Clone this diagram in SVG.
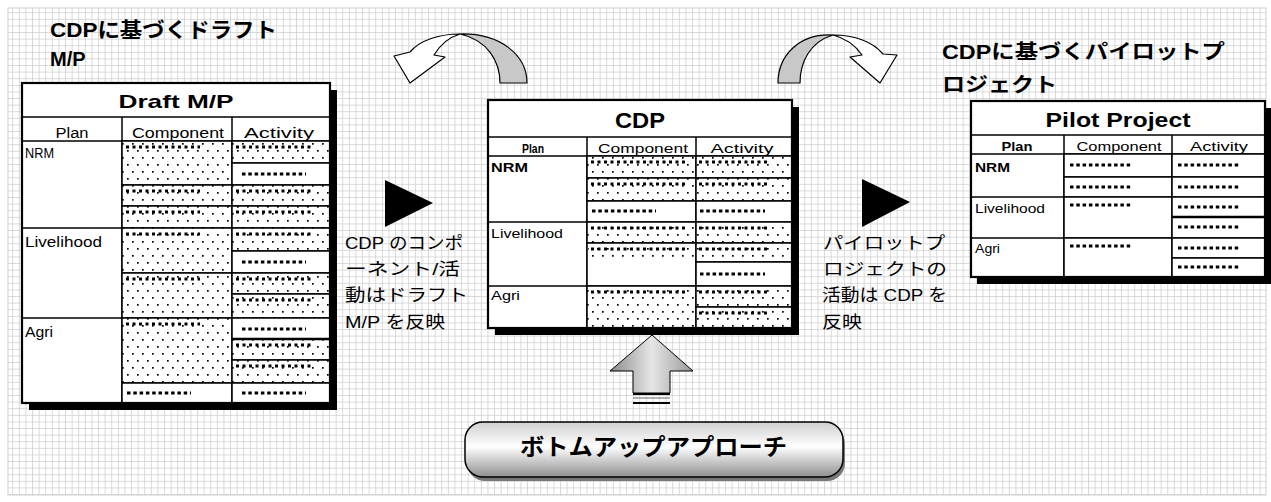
<svg xmlns="http://www.w3.org/2000/svg" width="1271" height="502" viewBox="0 0 1271 502">
<defs>
<pattern id="grid" width="6.6" height="6.6" patternUnits="userSpaceOnUse"><rect width="6.6" height="6.6" fill="#fff"/><path d="M6.6 0V6.6H0" fill="none" stroke="#cdcdcd" stroke-width="1.5"/></pattern>
<pattern id="dots" width="10" height="14" patternUnits="userSpaceOnUse"><rect width="10" height="14" fill="#fff"/><rect x="2" y="3" width="1.7" height="1.7" fill="#000"/><rect x="7" y="10" width="1.7" height="1.7" fill="#000"/></pattern>
<linearGradient id="upg" x1="0" y1="0" x2="1" y2="0"><stop offset="0" stop-color="#8a8a8a"/><stop offset="0.5" stop-color="#e6e6e6"/><stop offset="1" stop-color="#9a9a9a"/></linearGradient>
<linearGradient id="btn" x1="0" y1="0" x2="0" y2="1"><stop offset="0" stop-color="#cfcfcf"/><stop offset="0.45" stop-color="#ffffff"/><stop offset="1" stop-color="#8f8f8f"/></linearGradient>
<style>
.cell{fill:#fff;stroke:#000;stroke-width:1.5}
.dot{fill:url(#dots);stroke:#000;stroke-width:1.5}
.frame{fill:none;stroke:#000;stroke-width:2.2}
.shadow{fill:#000}
.ln{stroke:#000;stroke-width:1.5}
.mk{stroke:#000;stroke-width:3;stroke-dasharray:3 3.5;fill:none}
.dl{stroke:#000;stroke-width:3;stroke-dasharray:3.5 2.8;fill:none}
.ttl{font-family:"Liberation Sans",Arial,sans-serif;font-weight:bold;text-anchor:middle;fill:#000}
.hd{font-family:"Liberation Sans",Arial,sans-serif;text-anchor:middle;fill:#000}
.lb{font-family:"Liberation Sans",Arial,sans-serif;fill:#000}
.jp{font-family:"Liberation Sans","Noto Sans CJK JP",sans-serif;fill:#000}
.jpb{font-family:"Liberation Sans","Noto Sans CJK JP",sans-serif;font-weight:bold;fill:#000}
.band{stroke:#000;stroke-width:1.2;stroke-linejoin:round}
</style>
</defs>
<rect width="1271" height="502" fill="#fff"/>
<rect x="8" y="8" width="1258" height="487" fill="url(#grid)" stroke="#cfcfcf" stroke-width="1"/>

<g id="label-draft-title">
<text class="jpb" x="50" y="37" font-size="21" textLength="227" lengthAdjust="spacingAndGlyphs">CDPに基づくドラフト</text>
<text class="jpb" x="50" y="66" font-size="20">M/P</text>
</g>

<g id="label-pilot-title">
<text class="jpb" x="942" y="59" font-size="20" textLength="283" lengthAdjust="spacingAndGlyphs">CDPに基づくパイロットプ</text>
<text class="jpb" x="942" y="92" font-size="20" textLength="115" lengthAdjust="spacingAndGlyphs">ロジェクト</text>
</g>

<g id="table-draft">
<rect class="shadow" x="29" y="90" width="308" height="320"/>
<rect class="cell" x="22" y="83" width="308" height="320"/>
<line class="ln" x1="22" y1="117" x2="330" y2="117"/>
<line class="ln" x1="22" y1="141" x2="330" y2="141"/>
<line class="ln" x1="122" y1="117" x2="122" y2="403"/>
<line class="ln" x1="232" y1="117" x2="232" y2="403"/>
<line class="ln" x1="22" y1="228" x2="122" y2="228"/>
<line class="ln" x1="22" y1="318" x2="122" y2="318"/>
<rect class="dot" x="122" y="141" width="110" height="44"/>
<rect class="dot" x="122" y="185" width="110" height="21"/>
<rect class="dot" x="122" y="206" width="110" height="22"/>
<rect class="dot" x="122" y="228" width="110" height="45"/>
<rect class="dot" x="122" y="273" width="110" height="45"/>
<rect class="dot" x="122" y="318" width="110" height="65"/>
<rect class="cell" x="122" y="383" width="110" height="20"/>
<rect class="dot" x="232" y="141" width="98" height="22"/>
<rect class="cell" x="232" y="163" width="98" height="22"/>
<rect class="dot" x="232" y="185" width="98" height="21"/>
<rect class="dot" x="232" y="206" width="98" height="22"/>
<rect class="dot" x="232" y="228" width="98" height="23"/>
<rect class="cell" x="232" y="251" width="98" height="22"/>
<rect class="dot" x="232" y="273" width="98" height="21"/>
<rect class="dot" x="232" y="294" width="98" height="24"/>
<rect class="cell" x="232" y="318" width="98" height="21"/>
<rect class="dot" x="232" y="339" width="98" height="21"/>
<rect class="dot" x="232" y="360" width="98" height="23"/>
<rect class="cell" x="232" y="383" width="98" height="20"/>
<path class="mk" d="M126 147H200M126 191H200M126 212H200M126 234H200M126 279H200M126 324H200M236 147H312M236 191H312M236 212H312M236 234H312M236 279H312M236 300H312M236 345H312M236 366H312"/>
<path class="dl" d="M127 393H191M242 174H306M242 262H306M242 329H306M242 393H306"/>
<line x1="232" y1="339" x2="330" y2="339" stroke="#000" stroke-width="2.5"/>
<rect class="frame" x="22" y="83" width="308" height="320"/>
<text class="ttl" x="176" y="108" font-size="19" textLength="115" lengthAdjust="spacingAndGlyphs">Draft M/P</text>
<text class="hd" x="72" y="138" font-size="14" textLength="33" lengthAdjust="spacingAndGlyphs">Plan</text>
<text class="hd" x="178" y="138" font-size="14" textLength="92" lengthAdjust="spacingAndGlyphs">Component</text>
<text class="hd" x="279" y="138" font-size="14" textLength="70" lengthAdjust="spacingAndGlyphs">Activity</text>
<text class="lb" x="25" y="158" font-size="14" textLength="29" lengthAdjust="spacingAndGlyphs">NRM</text>
<text class="lb" x="25" y="247" font-size="14" textLength="77" lengthAdjust="spacingAndGlyphs">Livelihood</text>
<text class="lb" x="25" y="337" font-size="14" textLength="28" lengthAdjust="spacingAndGlyphs">Agri</text>
</g>

<g id="table-cdp">
<rect class="shadow" x="495" y="107" width="304" height="228"/>
<rect class="cell" x="488" y="100" width="304" height="228"/>
<line class="ln" x1="488" y1="137" x2="792" y2="137"/>
<line class="ln" x1="488" y1="156" x2="792" y2="156"/>
<line class="ln" x1="587" y1="137" x2="587" y2="328"/>
<line class="ln" x1="696" y1="137" x2="696" y2="328"/>
<line class="ln" x1="488" y1="222" x2="587" y2="222"/>
<line class="ln" x1="488" y1="286" x2="587" y2="286"/>
<rect class="dot" x="587" y="156" width="109" height="22"/>
<rect class="dot" x="587" y="178" width="109" height="23"/>
<rect class="cell" x="587" y="201" width="109" height="21"/>
<rect class="dot" x="587" y="222" width="109" height="21"/>
<rect class="cell" x="587" y="243" width="109" height="43"/>
<rect x="588" y="244" width="107" height="18" fill="url(#dots)"/>
<rect class="dot" x="587" y="286" width="109" height="42"/>
<rect class="dot" x="696" y="156" width="96" height="22"/>
<rect class="dot" x="696" y="178" width="96" height="23"/>
<rect class="cell" x="696" y="201" width="96" height="21"/>
<rect class="dot" x="696" y="222" width="96" height="21"/>
<rect class="dot" x="696" y="243" width="96" height="19"/>
<rect class="cell" x="696" y="262" width="96" height="24"/>
<rect class="dot" x="696" y="286" width="96" height="21"/>
<rect class="dot" x="696" y="307" width="96" height="21"/>
<path class="mk" d="M591 162H685M591 184H685M591 228H685M591 249H685M591 292H685M699 162H768M699 184H768M699 228H768M699 249H768M699 292H768M699 313H768"/>
<path class="dl" d="M592 211H656M700 211H765M700 274H765"/>
<rect class="frame" x="488" y="100" width="304" height="228"/>
<text class="ttl" x="640" y="128" font-size="22" textLength="50" lengthAdjust="spacingAndGlyphs">CDP</text>
<text class="hd" x="533" y="153" font-size="12" font-weight="bold" textLength="22" lengthAdjust="spacingAndGlyphs">Plan</text>
<text class="hd" x="643" y="153" font-size="12" textLength="90" lengthAdjust="spacingAndGlyphs">Component</text>
<text class="hd" x="742" y="153" font-size="12" textLength="63" lengthAdjust="spacingAndGlyphs">Activity</text>
<text class="lb" x="491" y="172" font-size="12" font-weight="bold" textLength="37" lengthAdjust="spacingAndGlyphs">NRM</text>
<text class="lb" x="491" y="238" font-size="12" textLength="72" lengthAdjust="spacingAndGlyphs">Livelihood</text>
<text class="lb" x="491" y="300" font-size="12" textLength="29" lengthAdjust="spacingAndGlyphs">Agri</text>
</g>

<g id="table-pilot">
<rect class="shadow" x="977" y="108" width="294" height="176"/>
<rect class="cell" x="971" y="101" width="294" height="176"/>
<line class="ln" x1="971" y1="135" x2="1265" y2="135"/>
<line class="ln" x1="971" y1="154" x2="1265" y2="154"/>
<line class="ln" x1="1064" y1="135" x2="1064" y2="277"/>
<line class="ln" x1="1172" y1="135" x2="1172" y2="277"/>
<line class="ln" x1="971" y1="197" x2="1064" y2="197"/>
<line class="ln" x1="971" y1="238" x2="1064" y2="238"/>
<rect class="cell" x="1064" y="154" width="108" height="23"/>
<rect class="cell" x="1064" y="177" width="108" height="20"/>
<rect class="cell" x="1064" y="197" width="108" height="41"/>
<rect class="cell" x="1064" y="238" width="108" height="39"/>
<rect class="cell" x="1172" y="154" width="93" height="23"/>
<rect class="cell" x="1172" y="177" width="93" height="20"/>
<rect class="cell" x="1172" y="197" width="93" height="20"/>
<rect class="cell" x="1172" y="217" width="93" height="21"/>
<rect class="cell" x="1172" y="238" width="93" height="20"/>
<rect class="cell" x="1172" y="258" width="93" height="19"/>
<line x1="1172" y1="217" x2="1265" y2="217" stroke="#000" stroke-width="2.5"/>
<path class="dl" d="M1070 165H1133M1070 187H1133M1070 205H1133M1070 246H1133M1178 165H1241M1178 187H1241M1178 207H1241M1178 227H1241M1178 248H1241M1178 267H1241"/>
<rect class="frame" x="971" y="101" width="294" height="176"/>
<text class="ttl" x="1118" y="127" font-size="20" textLength="145" lengthAdjust="spacingAndGlyphs">Pilot Project</text>
<text class="hd" x="1017" y="151" font-size="12" font-weight="bold" textLength="31" lengthAdjust="spacingAndGlyphs">Plan</text>
<text class="hd" x="1119" y="151" font-size="12" textLength="85" lengthAdjust="spacingAndGlyphs">Component</text>
<text class="hd" x="1219" y="151" font-size="12" textLength="58" lengthAdjust="spacingAndGlyphs">Activity</text>
<text class="lb" x="975" y="172" font-size="12" font-weight="bold" textLength="35" lengthAdjust="spacingAndGlyphs">NRM</text>
<text class="lb" x="975" y="213" font-size="12" textLength="70" lengthAdjust="spacingAndGlyphs">Livelihood</text>
<text class="lb" x="975" y="253" font-size="12" textLength="25" lengthAdjust="spacingAndGlyphs">Agri</text>
</g>

<g id="note-left">
<text class="jp" x="345" y="249" font-size="17" textLength="118" lengthAdjust="spacingAndGlyphs">CDP のコンポ</text>
<text class="jp" x="345" y="275" font-size="17" textLength="115" lengthAdjust="spacingAndGlyphs">ーネント/活</text>
<text class="jp" x="345" y="301" font-size="17" textLength="123" lengthAdjust="spacingAndGlyphs">動はドラフト</text>
<text class="jp" x="345" y="328" font-size="17" textLength="100" lengthAdjust="spacingAndGlyphs">M/P を反映</text>
</g>

<g id="note-right">
<text class="jp" x="823" y="249" font-size="17" textLength="122" lengthAdjust="spacingAndGlyphs">パイロットプ</text>
<text class="jp" x="823" y="275" font-size="17" textLength="124" lengthAdjust="spacingAndGlyphs">ロジェクトの</text>
<text class="jp" x="822" y="301" font-size="17" textLength="125" lengthAdjust="spacingAndGlyphs">活動は CDP を</text>
<text class="jp" x="822" y="328" font-size="17" textLength="40" lengthAdjust="spacingAndGlyphs">反映</text>
</g>

<g id="bottom-up">
<rect x="467" y="426" width="378" height="55" rx="18" fill="#777"/>
<rect x="465" y="422" width="378" height="55" rx="18" fill="url(#btn)" stroke="#000" stroke-width="1.5"/>
<text class="jpb" x="520" y="455" font-size="23" textLength="267" lengthAdjust="spacingAndGlyphs">ボトムアップアプローチ</text>
</g>

<g id="connectors">
<path class="band" fill="#c8c8c8" d="M460 34C500 33 527 55 527 83L500 83C500 62 488 40 460 34Z"/>
<path class="band" fill="#fff" d="M460 34C440 34 420 40 410 52L394 56L410 83L445 57L434 55C440 45 450 37 460 34Z"/>
<path class="band" fill="#c8c8c8" d="M833 35C800 33 778 55 778 83L800 83C800 62 810 42 833 35Z"/>
<path class="band" fill="#fff" d="M833 35C855 35 873 42 883 54L897 55L880 83L850 57L862 55C855 45 845 38 833 35Z"/>
<polygon points="385,180 433,203 385,227" fill="#000"/>
<polygon points="862,179 910,202 862,227" fill="#000"/>
<polygon points="652,335 693,371 670,371 670,393 633,393 633,371 610,371" fill="url(#upg)" stroke="#000" stroke-width="1"/>
<line x1="633" y1="394" x2="670" y2="394" stroke="#000" stroke-width="2"/>
<line x1="633" y1="398" x2="670" y2="398" stroke="#999" stroke-width="1.5"/>
<line x1="633" y1="403" x2="670" y2="403" stroke="#000" stroke-width="2"/>
</g>
</svg>
